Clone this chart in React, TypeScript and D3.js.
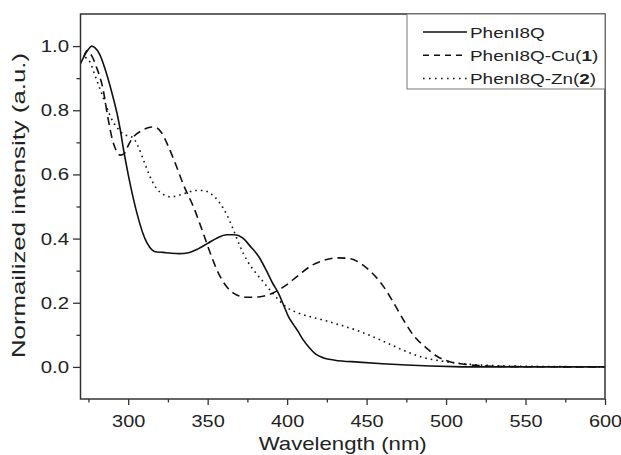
import React, { useEffect, useRef } from 'react';
import * as d3 from 'd3';

// wavelength (nm), normalized intensity
const phenWl = [270, 273, 275, 277, 279, 282, 286, 290, 293, 295, 297, 300, 303, 306, 309, 312, 315, 318, 322, 326, 332, 338, 344, 350, 356, 362, 367, 372, 377, 382, 387, 391, 394.5, 398, 401, 404, 407, 410, 414, 418, 423, 430, 445, 460, 475, 490, 505, 520, 600];
const phenVal = [0.945, 0.975, 0.99, 1.0, 0.995, 0.975, 0.92, 0.85, 0.79, 0.74, 0.68, 0.6, 0.53, 0.47, 0.42, 0.385, 0.365, 0.358, 0.357, 0.355, 0.353, 0.356, 0.368, 0.385, 0.402, 0.412, 0.412, 0.402, 0.375, 0.345, 0.3, 0.26, 0.23, 0.19, 0.155, 0.132, 0.11, 0.085, 0.06, 0.04, 0.028, 0.021, 0.015, 0.01, 0.006, 0.003, 0.001, 0, 0];

const cuWl = [272, 274, 277, 280, 284, 287.5, 290, 292, 295, 297.5, 300, 303, 308, 312, 315, 318, 321, 325, 330, 335, 341, 347, 352, 357, 362, 368, 375, 382, 390, 398, 407, 415, 423, 432, 440, 447, 453, 460, 467, 474, 480, 487, 494, 502, 512, 525, 540, 600];
const cuVal = [0.965, 0.985, 0.97, 0.935, 0.87, 0.77, 0.71, 0.68, 0.66, 0.665, 0.69, 0.715, 0.735, 0.745, 0.748, 0.745, 0.73, 0.69, 0.63, 0.565, 0.5, 0.42, 0.35, 0.29, 0.25, 0.225, 0.217, 0.218, 0.228, 0.25, 0.285, 0.315, 0.332, 0.34, 0.337, 0.32, 0.295, 0.255, 0.2, 0.14, 0.095, 0.062, 0.034, 0.017, 0.008, 0.003, 0.001, 0];

const znWl = [273, 276, 279, 282, 285, 288, 291, 294, 297, 300, 303, 306, 310, 314, 318, 322, 327, 332, 337, 342, 347, 352, 357, 362, 366, 370, 375, 380, 385, 390, 395, 400, 407, 415, 425, 435, 445, 455, 465, 475, 485, 495, 505, 515, 530, 550, 570, 600];
const znVal = [0.965, 0.95, 0.91, 0.87, 0.83, 0.79, 0.76, 0.74, 0.725, 0.72, 0.715, 0.69, 0.64, 0.59, 0.555, 0.538, 0.53, 0.535, 0.543, 0.55, 0.55, 0.54, 0.515, 0.475, 0.43, 0.38, 0.33, 0.295, 0.265, 0.235, 0.207, 0.185, 0.168, 0.156, 0.143, 0.128, 0.112, 0.092, 0.07, 0.048, 0.03, 0.02, 0.013, 0.008, 0.004, 0.002, 0.001, 0];

const xTicks = [300, 350, 400, 450, 500, 550, 600];
const xMinor = [275, 325, 375, 425, 475, 525, 575];
const yTicks = [0.0, 0.2, 0.4, 0.6, 0.8, 1.0];
const yMinor = [0.1, 0.3, 0.5, 0.7, 0.9];

const seriesNames = ['PhenI8Q', 'PhenI8Q-Cu', 'PhenI8Q-Zn'];
const seriesTags = ['', '1', '2'];
const dashes = ['none', '8,5', '1.6,4'];

// the source figure's lettering is wider than Arial, so widen the glyphs a bit
const stretch = (sel: any, k: number) => {
  sel.each(function (this: SVGTextElement) {
    const len = this.getComputedTextLength();
    this.setAttribute('textLength', String(len * k));
    this.setAttribute('lengthAdjust', 'spacingAndGlyphs');
  });
};

const App = () => {
  const svgRef = useRef<SVGSVGElement>(null);

  useEffect(() => {
    const margin = { top: 14, right: 16, bottom: 56, left: 80.5 };
    const width = 621 - margin.left - margin.right;
    const height = 455 - margin.top - margin.bottom;
    const font = 'Liberation Sans, Arial, sans-serif';
    const ink = '#222';

    const root = d3.select(svgRef.current);
    root.selectAll('*').remove();
    const svg = root.append('g')
      .attr('transform', `translate(${margin.left},${margin.top})`);

    const x = d3.scaleLinear().domain([270, 600]).range([0, width]);
    const y = d3.scaleLinear().domain([-0.1, 1.1]).range([height, 0]);

    const series = [
      phenWl.map((w, i) => [w, phenVal[i]]),
      cuWl.map((w, i) => [w, cuVal[i]]),
      znWl.map((w, i) => [w, znVal[i]]),
    ];

    const line = d3.line<number[]>()
      .x(d => x(d[0]))
      .y(d => y(d[1]))
      .curve(d3.curveMonotoneX);

    svg.append('clipPath').attr('id', 'plotclip')
      .append('rect').attr('width', width).attr('height', height);

    svg.selectAll('.curve')
      .data(series)
      .enter().append('path')
      .attr('class', 'curve')
      .attr('clip-path', 'url(#plotclip)')
      .attr('d', d => line(d))
      .attr('fill', 'none')
      .attr('stroke', '#111')
      .attr('stroke-width', 1.6)
      .attr('stroke-dasharray', (d, i) => dashes[i]);

    // axes
    const xAxis = svg.append('g')
      .attr('transform', `translate(0,${height})`)
      .call(d3.axisBottom(x).tickValues(xTicks).tickSize(6).tickPadding(10).tickFormat(d3.format('d')));
    svg.append('g')
      .attr('transform', `translate(0,${height})`)
      .call(d3.axisBottom(x).tickValues(xMinor).tickSize(3.5).tickFormat(() => ''))
      .select('.domain').remove();

    const yAxis = svg.append('g')
      .call(d3.axisLeft(y).tickValues(yTicks).tickSize(7.5).tickPadding(4).tickFormat(d3.format('.1f')));
    svg.append('g')
      .call(d3.axisLeft(y).tickValues(yMinor).tickSize(4).tickFormat(() => ''))
      .select('.domain').remove();

    [xAxis, yAxis].forEach(a => {
      a.select('.domain').remove();
      a.selectAll('text').attr('font-family', font).attr('font-size', 17).attr('fill', ink);
    });
    stretch(xAxis.selectAll('text'), 1.17);
    stretch(yAxis.selectAll('text'), 1.2);
    svg.selectAll('.tick line').attr('stroke', '#333').attr('stroke-width', 1.3);

    svg.append('rect')
      .attr('width', width)
      .attr('height', height)
      .attr('fill', 'none')
      .attr('stroke', '#333')
      .attr('stroke-width', 1.5);

    // axis titles
    svg.append('text')
      .attr('x', width / 2)
      .attr('y', height + 51)
      .attr('text-anchor', 'middle')
      .attr('font-family', font)
      .attr('font-size', 19)
      .attr('fill', ink)
      .attr('textLength', 168)
      .attr('lengthAdjust', 'spacingAndGlyphs')
      .text('Wavelength (nm)');

    svg.append('text')
      .attr('transform', `translate(${-55.5},${height / 2 - 1}) rotate(-90)`)
      .attr('text-anchor', 'middle')
      .attr('font-family', font)
      .attr('font-size', 19)
      .attr('fill', ink)
      .attr('textLength', 305)
      .attr('lengthAdjust', 'spacingAndGlyphs')
      .text('Normailized intensity (a.u.)');

    // legend
    const lgW = 198, lgH = 75;
    const lg = svg.append('g').attr('transform', `translate(${width - lgW},0)`);
    lg.append('rect')
      .attr('width', lgW)
      .attr('height', lgH)
      .attr('fill', 'white')
      .attr('stroke', '#777')
      .attr('stroke-width', 1);

    seriesNames.forEach((name, i) => {
      const ry = 18 + i * 23.2;
      lg.append('line')
        .attr('x1', 16).attr('x2', 60)
        .attr('y1', ry).attr('y2', ry)
        .attr('stroke', '#111')
        .attr('stroke-width', 1.5)
        .attr('stroke-dasharray', i === 1 ? '6,5' : i === 2 ? '1.6,4.4' : 'none');
      const t = lg.append('text')
        .attr('x', 63)
        .attr('y', ry)
        .attr('dy', '0.36em')
        .attr('font-family', font)
        .attr('font-size', 15.5)
        .attr('fill', ink);
      t.append('tspan').text(name);
      if (seriesTags[i]) {
        t.append('tspan').text('(');
        t.append('tspan').attr('font-weight', 'bold').text(seriesTags[i]);
        t.append('tspan').text(')');
      }
      stretch(t, 1.22);
    });
  }, []);

  return (
    <svg
      ref={svgRef}
      width={621}
      height={455}
      style={{ position: 'absolute', left: 0, top: 0, background: 'white' }}
    />
  );
};

export default App;
